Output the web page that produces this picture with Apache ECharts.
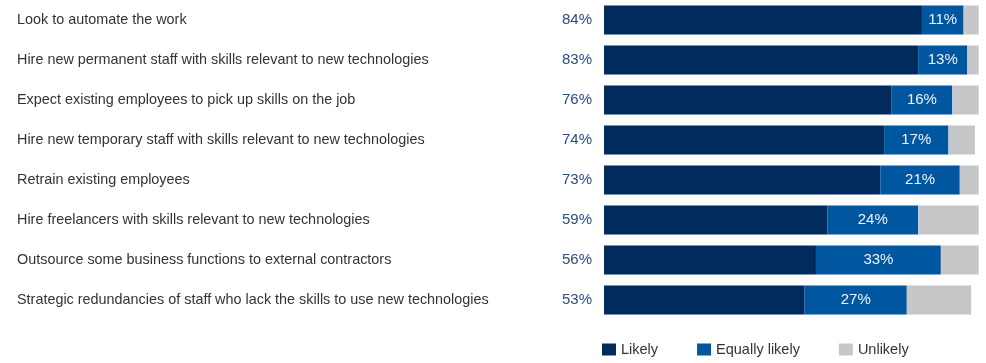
<!DOCTYPE html>
<html>
<head>
<meta charset="utf-8">
<script src="https://cdn.jsdelivr.net/npm/echarts@6/dist/echarts.min.js"></script>
<style>
  html, body { margin: 0; padding: 0; background: #fff; }
  #chart { width: 986px; height: 363px; }
</style>
</head>
<body>
<div id="chart"></div>
<script>
const categories = [
  'Look to automate the work',
  'Hire new permanent staff with skills relevant to new technologies',
  'Expect existing employees to pick up skills on the job',
  'Hire new temporary staff with skills relevant to new technologies',
  'Retrain existing employees',
  'Hire freelancers with skills relevant to new technologies',
  'Outsource some business functions to external contractors',
  'Strategic redundancies of staff who lack the skills to use new technologies'
]
const likely = [84, 83, 76, 74, 73, 59, 56, 53]
const equallyLikely = [11, 13, 16, 17, 21, 24, 33, 27]
const unlikely = [4, 3, 7, 7, 5, 16, 10, 17]

const font = "'Liberation Sans', Arial, sans-serif"

const chart = echarts.init(document.getElementById('chart'))
chart.setOption({
  animation: false,
  textStyle: { fontFamily: font },
  grid: {
    left: 604,
    right: 3.5,
    top: 0,
    height: 320
  },
  legend: {
    left: 602,
    top: 342,
    padding: 0,
    itemWidth: 14,
    itemHeight: 12,
    itemGap: 39,
    icon: 'rect',
    textStyle: { fontFamily: font, fontSize: 14.5, color: '#333' },
    data: ['Likely', 'Equally likely', 'Unlikely']
  },
  xAxis: {
    type: 'value',
    min: 0,
    max: 100,
    show: false
  },
  yAxis: {
    type: 'category',
    data: categories,
    inverse: true,
    axisLine: { show: false },
    axisTick: { show: false },
    splitLine: { show: false },
    axisLabel: {
      align: 'left',
      margin: 587,
      fontFamily: font,
      fontSize: 14.4,
      color: '#333'
    }
  },
  series: [
    {
      name: 'Likely',
      type: 'bar',
      stack: 'all',
      barWidth: 29,
      data: likely,
      itemStyle: { color: '#002b5c' },
      label: {
        show: true,
        position: 'left',
        distance: 12,
        formatter: '{c}%',
        fontFamily: font,
        fontSize: 15,
        color: '#2a4a80'
      }
    },
    {
      name: 'Equally likely',
      type: 'bar',
      stack: 'all',
      data: equallyLikely,
      itemStyle: { color: '#0057a0' },
      label: {
        show: true,
        position: 'inside',
        formatter: '{c}%',
        fontFamily: font,
        fontSize: 15,
        color: '#eef2f8'
      }
    },
    {
      name: 'Unlikely',
      type: 'bar',
      stack: 'all',
      data: unlikely,
      itemStyle: { color: '#c6c7c9' }
    }
  ]
})
</script>
</body>
</html>
